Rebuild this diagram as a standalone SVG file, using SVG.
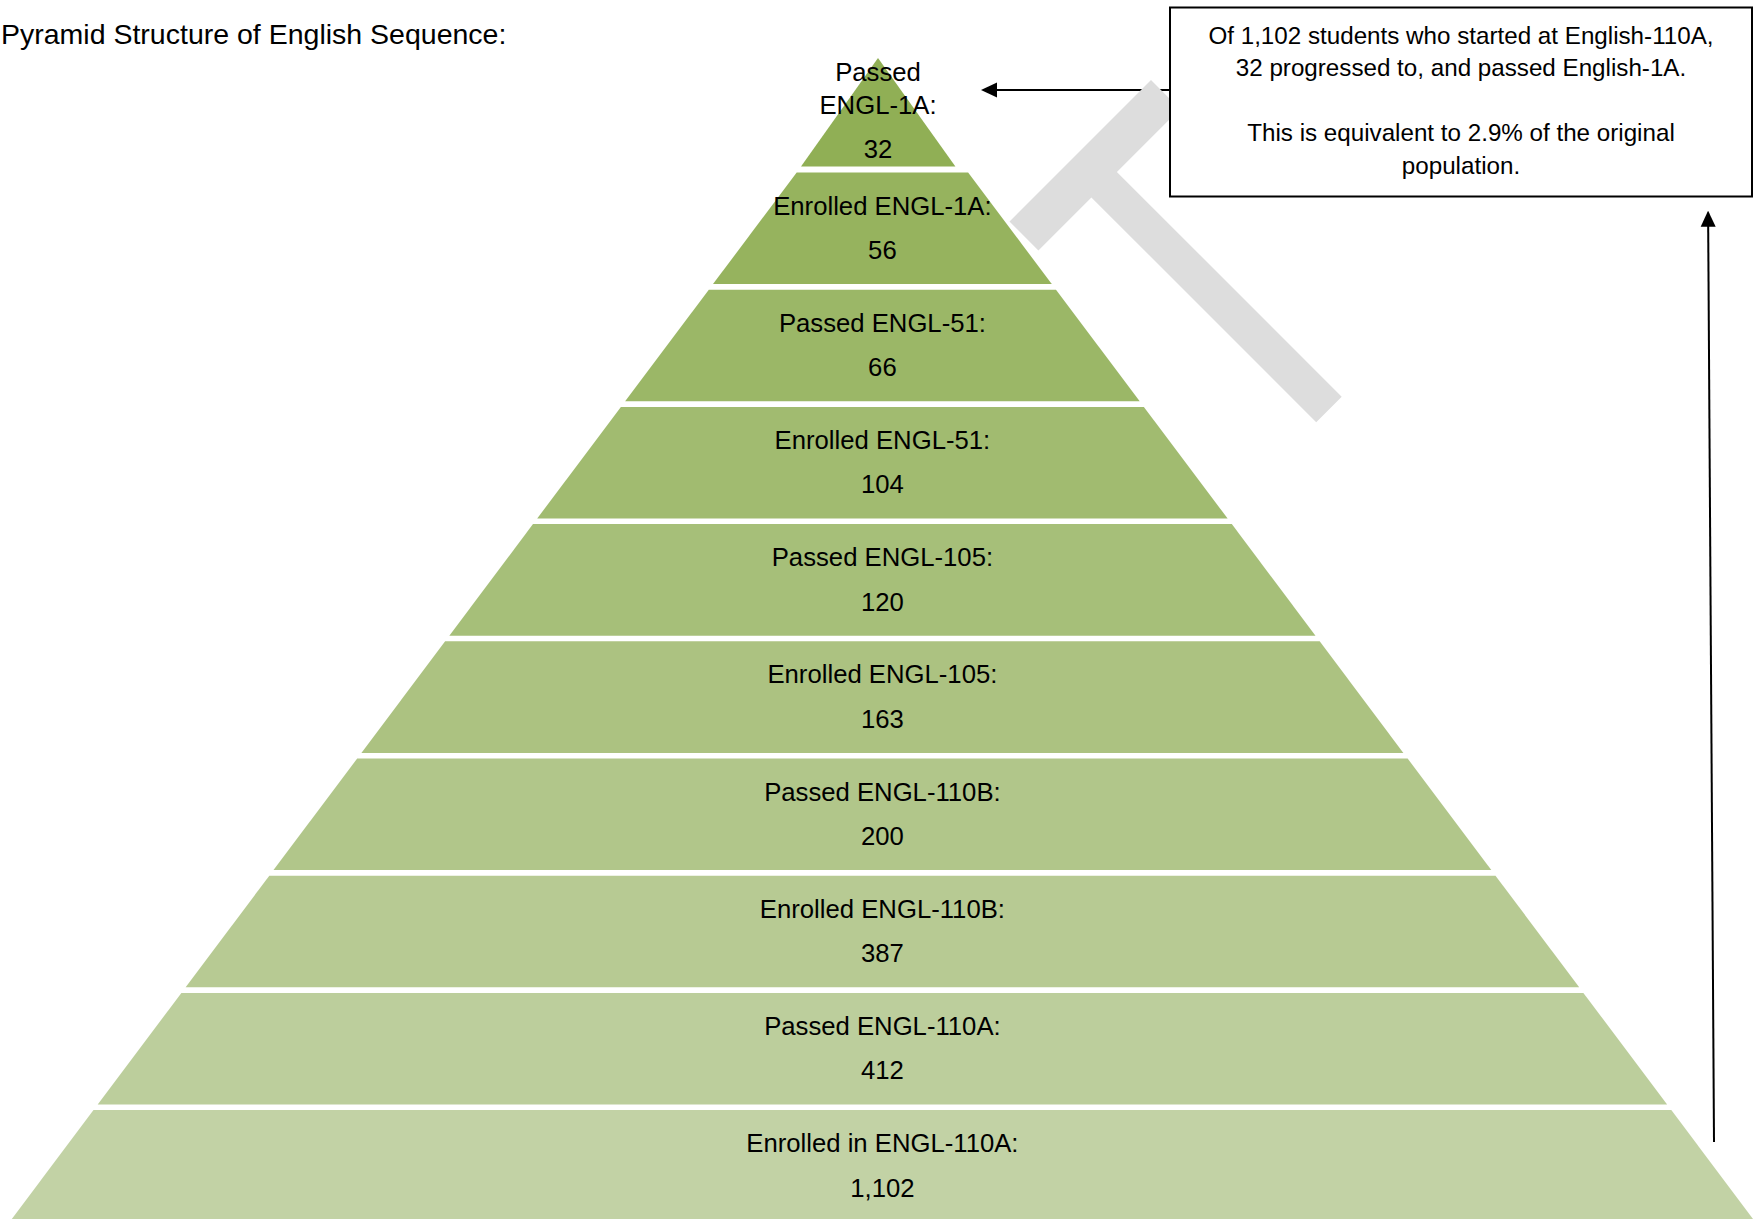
<svg xmlns="http://www.w3.org/2000/svg" width="1762" height="1219" viewBox="0 0 1762 1219">
  <style>
    text { font-family: "Liberation Sans", Arial, sans-serif; fill: #000; }
    .title { font-size: 28.5px; }
    .lbl { font-size: 25.7px; text-anchor: middle; }
    .note { font-size: 24.2px; text-anchor: middle; }
    .conn { stroke: #000; stroke-width: 2; fill: none; }
  </style>
  <defs>
    <marker id="arrow" markerUnits="userSpaceOnUse" markerWidth="16" markerHeight="16" viewBox="0 0 16 16" refX="14" refY="8" orient="auto">
      <path d="M0,0.5 L16,8 L0,15.5 z" fill="#000"/>
    </marker>
  </defs>
  <rect width="1762" height="1219" fill="#fff"/>

  <text class="title" x="1" y="44">Pyramid Structure of English Sequence:</text>

  <g id="tier-1">
    <polygon points="878,58 955.4,166.5 801,166.5" fill="#90AF55"/>
    <text class="lbl" x="878" y="81">Passed</text>
    <text class="lbl" x="878" y="114">ENGL-1A:</text>
    <text class="lbl" x="878" y="157.5">32</text>
  </g>
  <g id="tier-2">
    <polygon points="796.7,172.5 968.1,172.5 1051.8,284.1 713.0,284.1" fill="#96B35E"/>
    <text class="lbl" x="882.4" y="214.5">Enrolled ENGL-1A:</text>
    <text class="lbl" x="882.4" y="259">56</text>
  </g>
  <g id="tier-3">
    <polygon points="708.8,289.7 1056.0,289.7 1139.7,401.3 625.1,401.3" fill="#9BB767"/>
    <text class="lbl" x="882.4" y="331.7">Passed ENGL-51:</text>
    <text class="lbl" x="882.4" y="376.2">66</text>
  </g>
  <g id="tier-4">
    <polygon points="620.9,406.9 1143.9,406.9 1227.6,518.5 537.2,518.5" fill="#A1BB70"/>
    <text class="lbl" x="882.4" y="448.9">Enrolled ENGL-51:</text>
    <text class="lbl" x="882.4" y="493.4">104</text>
  </g>
  <g id="tier-5">
    <polygon points="533.0,524.1 1231.8,524.1 1315.5,635.7 449.3,635.7" fill="#A6BF79"/>
    <text class="lbl" x="882.4" y="566.1">Passed ENGL-105:</text>
    <text class="lbl" x="882.4" y="610.6">120</text>
  </g>
  <g id="tier-6">
    <polygon points="445.1,641.3 1319.7,641.3 1403.4,752.9 361.4,752.9" fill="#ACC281"/>
    <text class="lbl" x="882.4" y="683.3">Enrolled ENGL-105:</text>
    <text class="lbl" x="882.4" y="727.8">163</text>
  </g>
  <g id="tier-7">
    <polygon points="357.2,758.5 1407.6,758.5 1491.3,870.1 273.5,870.1" fill="#B1C68A"/>
    <text class="lbl" x="882.4" y="800.5">Passed ENGL-110B:</text>
    <text class="lbl" x="882.4" y="845">200</text>
  </g>
  <g id="tier-8">
    <polygon points="269.3,875.7 1495.5,875.7 1579.2,987.3 185.6,987.3" fill="#B7CA93"/>
    <text class="lbl" x="882.4" y="917.7">Enrolled ENGL-110B:</text>
    <text class="lbl" x="882.4" y="962.2">387</text>
  </g>
  <g id="tier-9">
    <polygon points="181.4,992.9 1583.4,992.9 1667.1,1104.5 97.7,1104.5" fill="#BCCE9C"/>
    <text class="lbl" x="882.4" y="1034.9">Passed ENGL-110A:</text>
    <text class="lbl" x="882.4" y="1079.4">412</text>
  </g>
  <g id="tier-10">
    <polygon points="93.5,1110.1 1671.3,1110.1 1753.0,1219 11.8,1219" fill="#C2D2A5"/>
    <text class="lbl" x="882.4" y="1152.1">Enrolled in ENGL-110A:</text>
    <text class="lbl" x="882.4" y="1196.6">1,102</text>
  </g>

  <g id="connectors">
    <line class="conn" x1="1170" y1="90" x2="983" y2="90" marker-end="url(#arrow)"/>
    <line class="conn" x1="1714" y1="1142" x2="1708.1" y2="212.7" marker-end="url(#arrow)"/>
  </g>

  <g id="t-shape">
    <polygon points="1009.5,221.5 1151,80 1179.9,108.9 1116.9,171.9 1341.7,396.7 1316.2,422.2 1091.4,197.4 1038.4,250.4" fill="#DDDDDD"/>
  </g>

  <g id="callout">
    <rect x="1170" y="7.5" width="582" height="189" fill="#fff" stroke="#000" stroke-width="2"/>
    <text class="note" x="1461" y="43.5">Of 1,102 students who started at English-110A,</text>
    <text class="note" x="1461" y="76">32 progressed to, and passed English-1A.</text>
    <text class="note" x="1461" y="141">This is equivalent to 2.9% of the original</text>
    <text class="note" x="1461" y="173.5">population.</text>
  </g>
</svg>
